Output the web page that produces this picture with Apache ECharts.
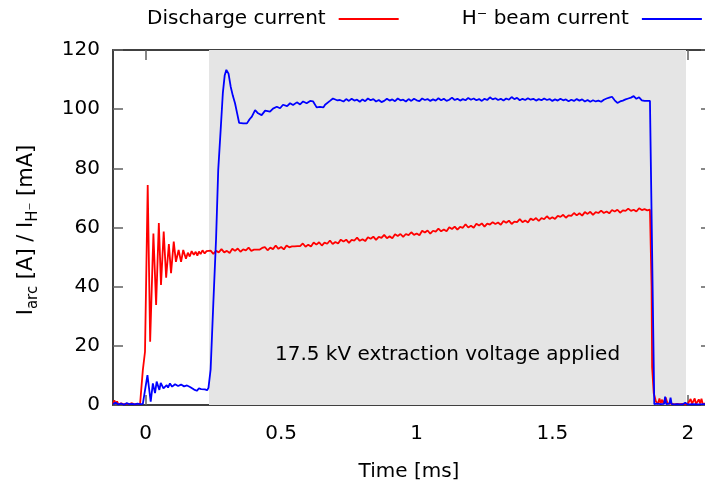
<!DOCTYPE html>
<html><head><meta charset="utf-8">
<script src="https://cdn.jsdelivr.net/npm/echarts@6/dist/echarts.min.js"></script>
<style>html,body{margin:0;padding:0;background:#fff}#c{width:705px;height:489px}</style>
</head><body><div id="c"></div>
<script>
// ---------- data ----------
const xTicks = [0, 0.5, 1, 1.5, 2];
const yTicks = [0, 20, 40, 60, 80, 100, 120];
const seriesNames = ['Discharge current', 'H\u207B beam current'];
const shadeRange = [0.234, 1.993];
const annotationText = '17.5 kV extraction voltage applied';
const xTitle = 'Time [ms]';

// Discharge current (red)
const redEarlyT = [-0.12,-0.115,-0.11,-0.105,-0.10,-0.09,-0.08,-0.07,-0.06,-0.05,-0.04,-0.03,-0.020,
  -0.010,-0.002,0.008,0.017,0.029,0.039,0.049,0.057,0.067,0.076,
  0.086,0.094,0.104,0.112,0.122,0.131,0.139,0.149,0.156,0.163,
  0.170,0.178,0.185,0.191,0.197,0.203,0.210,0.218,0.225,0.232];
const redEarlyV = [0.3,1.6,0.4,1.2,0.2,0.6,0.2,0.5,0.3,0.6,0.2,0.4,0.5,
  11.8,18,74.4,21.4,58,33.8,61.5,40.6,58.6,43,
  54.4,44.6,55.2,48.4,52.4,48.4,52.4,49.4,51.5,50.2,
  52,50.8,51.8,50.5,51.9,51,52.3,51.2,52,51.4];
const redPlateauStart = 0.24, redPlateauStep = 0.01;
const redPlateauV = [
  52.2,51.1,52.1,51.6,52.7,51.6,52.1,51.4,52.8,52.1,
  52.9,51.8,52.6,52.3,53.2,52.1,52.5,52.5,52.5,53.1,
  53.4,52.3,53.2,52.7,53.9,52.8,53.4,52.6,53.9,53.3,
  53.6,53.6,53.7,53.7,54.6,53.5,54.2,53.6,54.9,54.2,
  55.0,53.9,54.9,54.5,55.6,54.4,55.1,54.6,55.9,55.3,
  55.9,54.8,55.8,55.6,56.6,55.5,56.0,55.4,56.7,56.2,
  56.9,55.8,56.8,56.5,57.5,56.4,57.0,56.4,57.7,57.1,
  57.8,56.8,57.8,57.4,58.4,57.5,58.0,57.4,58.9,58.3,
  59.0,57.9,58.9,58.6,59.6,58.7,59.3,58.7,60.1,59.5,
  60.3,59.3,60.2,59.9,61.1,60.0,60.6,59.9,61.3,60.7,
  61.4,60.3,61.3,61.0,61.8,61.2,61.7,60.9,62.2,61.6,
  62.3,61.2,62.0,61.8,62.8,61.8,62.4,61.7,63.0,62.5,
  63.2,62.2,63.2,62.8,63.8,62.9,63.5,62.9,63.9,63.6,
  64.3,63.3,64.1,63.9,64.9,64.1,64.8,64.0,65.2,64.6,
  65.3,64.3,65.2,64.9,65.7,64.9,65.4,64.8,65.9,65.4,
  66.0,65.0,65.8,65.6,66.4,65.6,66.0,65.4,66.5,65.9,
  66.2,65.8];
const redTailT = [1.860,1.866,1.868,1.874,1.882,1.886,1.890,1.895,1.900,1.905,
  1.910,1.918,1.925,1.93,1.94,1.95,1.96,1.97,1.98,1.99,
  2.00,2.01,2.015,2.025,2.03,2.04,2.045,2.05,2.055,2.065,2.075,2.085];
const redTailV = [66.0,40,12.8,4,1.2,1.6,0.4,2.2,0.6,1.8,
  0.4,2.5,0.5,0.3,0.5,0.2,0.4,0.3,0.4,0.2,
  0.5,2.0,0.4,2.2,0.3,1.9,0.5,2.1,0.3,0.6,1.5,0.3];

// H- beam current (blue)
const blueEarlyT = [-0.12,-0.11,-0.10,-0.09,-0.08,-0.07,-0.06,-0.05,-0.04,-0.03,-0.02,-0.01,-0.008,
  0.007,0.019,0.027,0.035,0.041,0.051,0.056,0.066,0.078,0.083,
  0.090,0.098,0.109,0.120,0.131,0.142,0.153,0.164,0.170,0.179,
  0.189,0.197,0.205,0.212,0.219,0.227,0.232,0.240,0.250,0.260,
  0.268,0.277,0.285,0.292,0.298,0.302,0.306,0.314,0.322,0.330,
  0.338,0.345,0.360,0.374,0.383,0.392,0.404,0.415,0.428,0.441,
  0.459,0.470,0.484,0.496,0.507,0.522,0.533,0.544,0.558,0.570,
  0.581,0.594,0.607,0.618,0.631,0.643,0.656,0.662,0.680,0.691,
  0.706,0.717];
const blueEarlyV = [0.3,0.8,0.2,0.5,0.1,0.6,0.3,0.4,0.2,0.5,0.3,0.4,0.8,
  10.1,1.1,7.3,4.0,7.9,5.1,7.5,5.6,6.7,5.9,
  7.3,6.2,7.0,6.4,6.9,6.3,6.6,6.1,6.2,5.2,
  4.8,5.6,5.4,6.0,5.3,5.0,5.8,12,34.5,56,
  79.4,93,105.4,111.5,113.3,113.0,112.0,107.6,104.5,102,
  98.5,95.4,95.2,95.2,96.5,97.5,99.7,98.6,98.0,99.5,
  99.2,100.2,100.8,100.3,101.5,101.0,102.0,101.4,102.3,101.6,
  102.6,102.0,102.8,102.6,100.6,100.8,100.6,101.5,102.8,103.6,
  103.0,103.1];
const bluePlateauStart = 0.73, bluePlateauStep = 0.01;
const bluePlateauV = [
  102.6,103.4,102.8,103.5,102.9,103.2,102.5,103.3,102.7,103.6,
  103.0,103.4,102.6,103.1,102.4,102.8,103.5,102.9,103.3,102.7,
  103.6,103.0,103.2,102.6,103.4,102.8,103.5,103.0,102.7,103.6,
  103.1,103.4,102.8,103.3,102.9,103.7,103.0,103.5,102.8,103.2,
  103.9,103.1,103.5,102.9,103.4,103.0,103.8,103.2,103.6,103.0,
  103.4,102.8,103.5,103.1,104.0,103.3,103.7,103.1,103.5,102.9,
  103.6,103.2,104.1,103.4,103.8,103.0,103.5,103.1,103.7,103.2,
  103.5,102.9,103.4,103.0,103.6,103.1,103.4,102.8,103.3,102.9,
  103.5,103.0,103.3,102.7,103.2,102.8,103.4,102.9,103.3,102.6,
  103.1,102.5,103.0,102.6,102.9,102.5,103.2,103.6,103.9,104.2,
  103.0,102.1,102.6,102.9,103.3,103.6,103.9,104.4,103.5,104.0,
  103.0,102.8,102.8,102.8];
const blueTailT = [1.866,1.876,1.885,1.90,1.912,1.916,1.920,1.926,1.932,1.936,1.940,
  1.95,1.96,1.97,1.98,1.99,2.00,2.02,2.04,2.06,2.085];
const blueTailV = [102.8,0.3,0.5,0.3,0.4,2.8,0.3,0.4,0.5,2.5,0.3,
  0.2,0.3,0.2,0.2,0.8,0.2,0.3,0.2,0.3,0.2];

// ---------- build ----------
function zip(t, v) { return t.map((x, i) => [x, v[i]]); }
function onGrid(start, step, v) { return v.map((y, i) => [+(start + i * step).toFixed(4), y]); }
const redData = zip(redEarlyT, redEarlyV).concat(onGrid(redPlateauStart, redPlateauStep, redPlateauV), zip(redTailT, redTailV));
const blueData = zip(blueEarlyT, blueEarlyV).concat(onGrid(bluePlateauStart, bluePlateauStep, bluePlateauV), zip(blueTailT, blueTailV));

const FONT = 'DejaVu Sans';
const FS = 20;
const axisLineStyle = { color: '#404040', width: 2 };
const tickStyle = { color: '#606060', width: 1.5 };

const chart = echarts.init(document.getElementById('c'), null, { renderer: 'canvas' });
const xMin = -0.12, xMax = 2.063;
chart.setOption({
  animation: false,
  backgroundColor: '#fff',
  textStyle: { fontFamily: FONT },
  grid: { left: 113, right: 0, top: 50, bottom: 84, containLabel: false },
  legend: {
    left: 147, top: 9, align: 'right', padding: 0,
    icon: 'rect', itemWidth: 60, itemHeight: 2, itemGap: 63,
    data: seriesNames,
    textStyle: { fontFamily: FONT, fontSize: FS, color: '#000', padding: [0, 8, 0, 0] }
  },
  xAxis: [{
    type: 'value', min: xMin, max: xMax, position: 'bottom',
    axisLine: { show: true, onZero: false, lineStyle: axisLineStyle },
    axisTick: { show: true, inside: true, length: 10, lineStyle: tickStyle, customValues: xTicks },
    axisLabel: { customValues: xTicks, formatter: v => String(v), fontFamily: FONT, fontSize: FS, color: '#000', margin: 19 },
    splitLine: { show: false },
    name: xTitle, nameLocation: 'middle', nameGap: 57,
    nameTextStyle: { fontFamily: FONT, fontSize: FS, color: '#000' }
  }, {
    type: 'value', min: xMin, max: xMax, position: 'top',
    axisLine: { show: true, onZero: false, lineStyle: axisLineStyle },
    axisTick: { show: true, inside: true, length: 10, lineStyle: tickStyle, customValues: xTicks },
    axisLabel: { show: false }, splitLine: { show: false }
  }],
  yAxis: [{
    type: 'value', min: 0, max: 120, interval: 20, position: 'left',
    axisLine: { show: true, onZero: false, lineStyle: axisLineStyle },
    axisTick: { show: true, inside: true, length: 10, lineStyle: tickStyle },
    axisLabel: { fontFamily: FONT, fontSize: FS, color: '#000', margin: 13 },
    splitLine: { show: false }
  }, {
    type: 'value', min: 0, max: 120, interval: 20, position: 'right',
    axisLine: { show: false, onZero: false },
    axisTick: { show: true, inside: true, length: 4, lineStyle: tickStyle },
    axisLabel: { show: false }, splitLine: { show: false }
  }],
  series: [{
    name: seriesNames[0], type: 'line', data: redData, xAxisIndex: 0, yAxisIndex: 0,
    symbol: 'none', showSymbol: false, color: '#ff0000',
    lineStyle: { color: '#ff0000', width: 1.8 }, clip: true,
    markArea: {
      silent: true,
      itemStyle: { color: '#e5e5e5' },
      label: { show: true, position: 'insideBottom', distance: 40, formatter: annotationText,
        fontFamily: FONT, fontSize: FS, color: '#000' },
      data: [[{ xAxis: shadeRange[0] }, { xAxis: shadeRange[1] }]]
    }
  }, {
    name: seriesNames[1], type: 'line', data: blueData, xAxisIndex: 0, yAxisIndex: 0,
    symbol: 'none', showSymbol: false, color: '#0000ff',
    lineStyle: { color: '#0000ff', width: 1.8 }, clip: true
  }],
  graphic: [{
    type: 'text', x: 27, y: 230, rotation: Math.PI / 2,
    style: {
      text: 'I{sub|arc} [A] / I{sub|H\u207B} [mA]',
      fontFamily: FONT, fontSize: 21, fill: '#000', lineHeight: 27,
      align: 'center', verticalAlign: 'middle',
      rich: { sub: { fontFamily: FONT, fontSize: 15, lineHeight: 15, verticalAlign: 'bottom', fill: '#000' } }
    }
  }]
});
</script>
</body></html>
